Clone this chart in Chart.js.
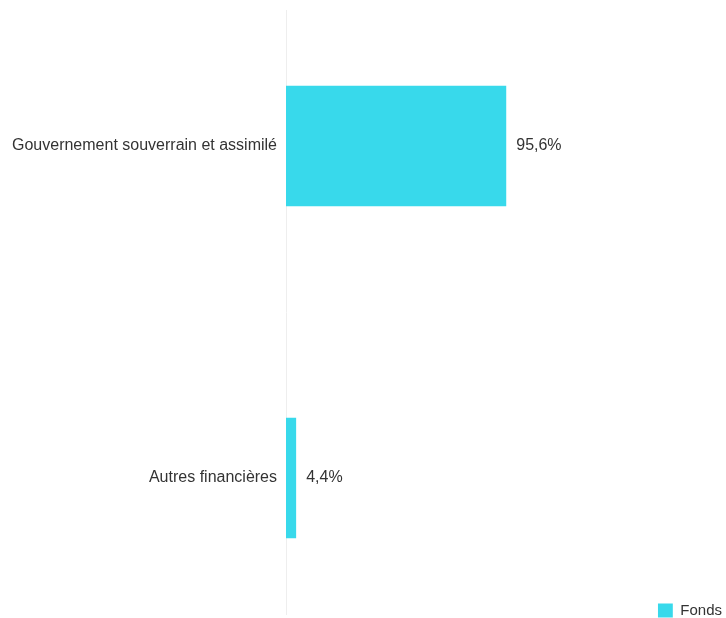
<!DOCTYPE html>
<html>
<head>
<meta charset="utf-8">
<script src="https://cdn.jsdelivr.net/npm/chart.js@4/dist/chart.umd.min.js"></script>
<style>
  html, body { margin: 0; padding: 0; background: #ffffff; }
  #wrap { width: 726px; height: 618px; }
</style>
</head>
<body>
<div id="wrap"><canvas id="c"></canvas></div>
<script>
const categories = ["Gouvernement souverrain et assimilé", "Autres financières"];
const seriesName = "Fonds";
const fondsValues = [95.6, 4.4];
const valueLabels = ["95,6%", "4,4%"];

const FONT = "'Liberation Sans', Arial, sans-serif";
const BAR = "#38d9eb";

const labelPlugin = {
  id: 'barValueLabels',
  afterDatasetsDraw(chart) {
    const ctx = chart.ctx;
    const meta = chart.getDatasetMeta(0);
    ctx.save();
    ctx.font = "16px " + FONT;
    ctx.fillStyle = "#333333";
    ctx.textAlign = "left";
    ctx.textBaseline = "middle";
    meta.data.forEach((bar, i) => {
      ctx.fillText(valueLabels[i], bar.x + 10, bar.y);
    });
    ctx.restore();
  }
};

new Chart(document.getElementById('c'), {
  type: 'bar',
  data: {
    datasets: [{
      label: seriesName,
      data: fondsValues.map((v, i) => ({ x: v, y: i })),
      backgroundColor: BAR,
      borderWidth: 0,
      categoryPercentage: 1,
      barPercentage: 0.363
    }]
  },
  options: {
    indexAxis: 'y',
    responsive: true,
    maintainAspectRatio: false,
    animation: false,
    layout: { padding: { top: 10, bottom: 0, left: 0, right: -6 } },
    scales: {
      x: {
        type: 'linear',
        min: 0,
        max: 161.4,
        display: false
      },
      y: {
        type: 'linear',
        reverse: true,
        offset: false,
        min: -0.41,
        max: 1.41,
        afterBuildTicks(scale) {
          scale.ticks = categories.map((c, i) => ({ value: i }));
        },
        afterFit(scale) {
          scale.width = 286;
          scale.paddingTop = 0;
          scale.paddingBottom = 4;
        },
        ticks: {
          callback: (v) => categories[v] !== undefined ? categories[v] : '',
          font: { family: FONT, size: 16 },
          color: '#333333',
          padding: 9,
          autoSkip: false
        },
        grid: { display: true, drawOnChartArea: false, drawTicks: false, offset: false },
        border: { display: true, color: '#eeeeee', width: 1 }
      }
    },
    plugins: {
      legend: {
        position: 'right',
        align: 'end',
        labels: {
          boxWidth: 15,
          boxHeight: 14,
          padding: 0,
          font: { family: FONT, size: 15 },
          color: '#333333'
        }
      },
      tooltip: { enabled: false }
    }
  },
  plugins: [labelPlugin]
});
</script>
</body>
</html>
